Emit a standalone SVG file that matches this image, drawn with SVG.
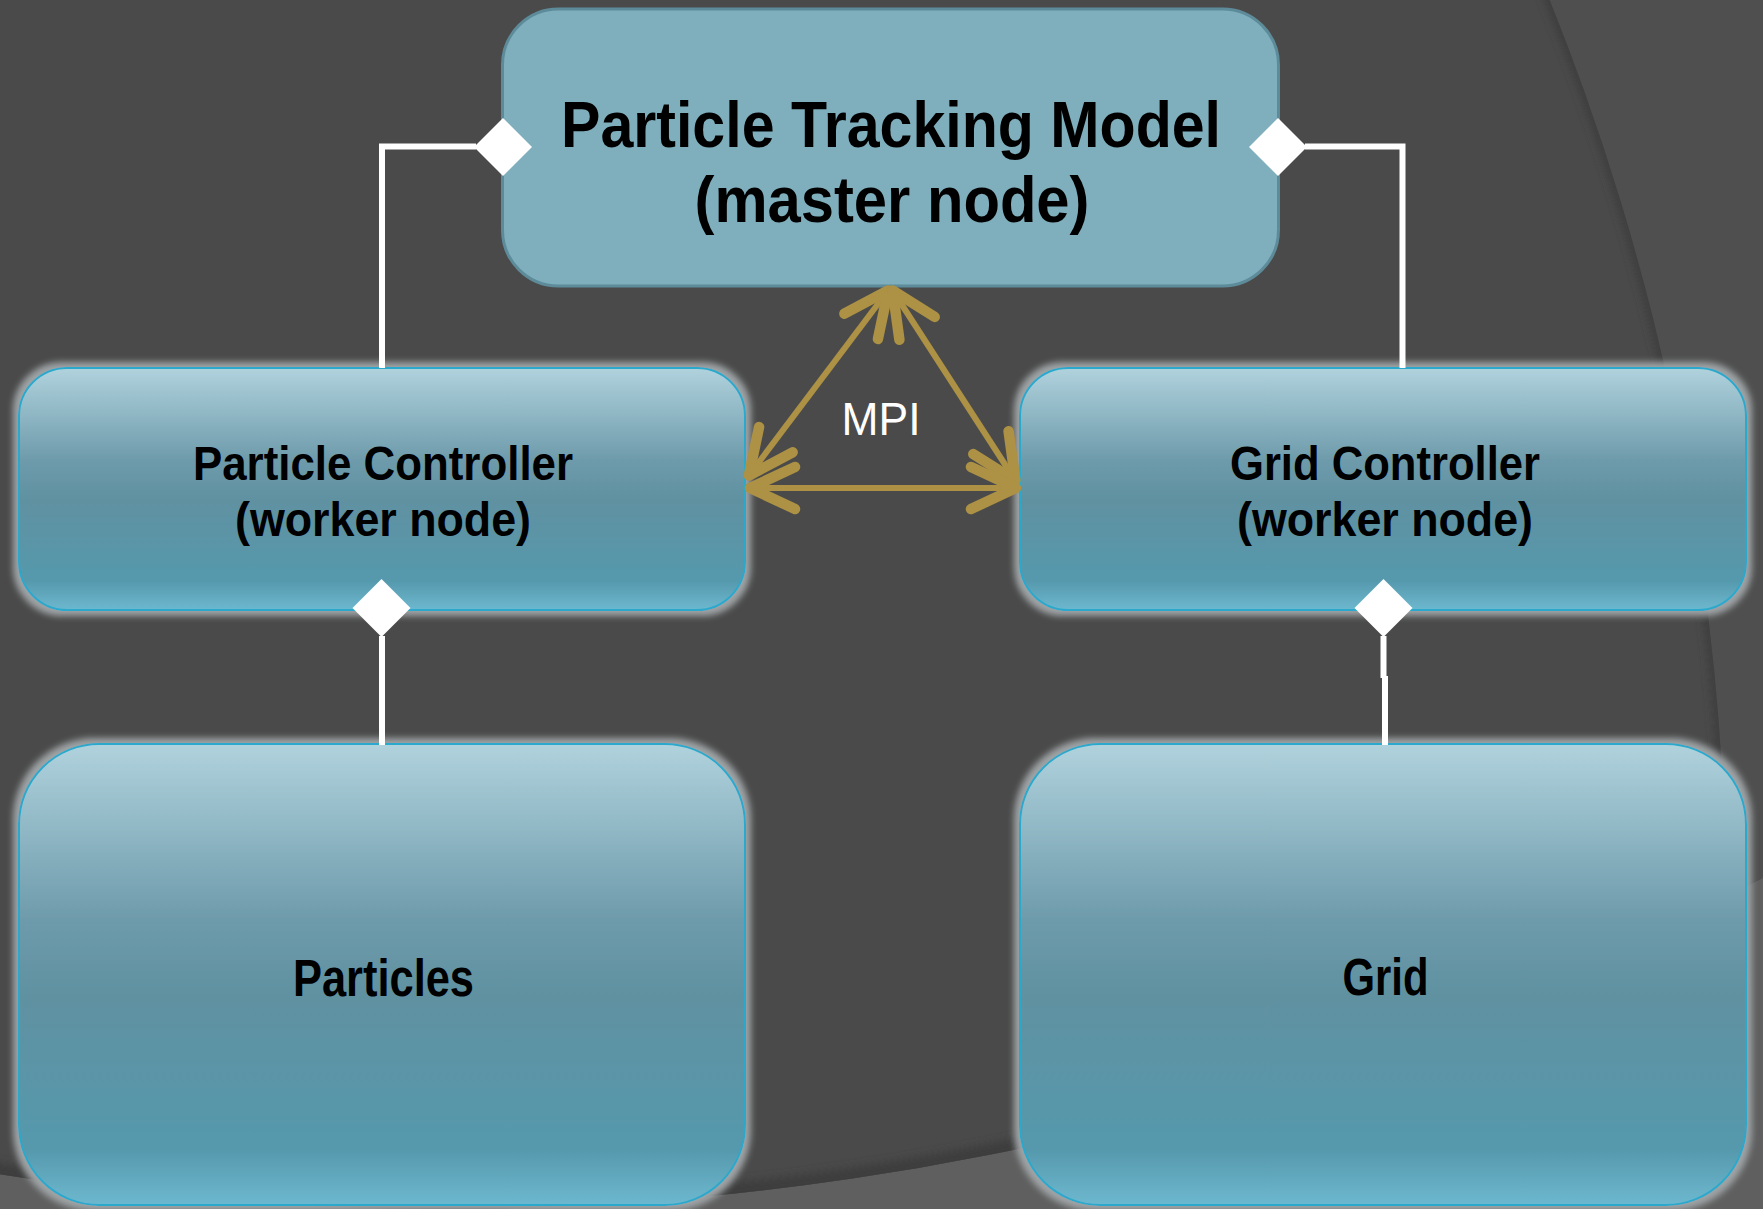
<svg xmlns="http://www.w3.org/2000/svg" xmlns:xlink="http://www.w3.org/1999/xlink" width="1763" height="1209" viewBox="0 0 1763 1209">
  <style>
    .lbl { font-family: "Liberation Sans", Arial, sans-serif; font-weight: bold; fill: #000; text-anchor: middle; }
    .box { fill: url(#boxGrad); stroke: #2aa9cc; stroke-width: 2; }
    .wire { fill: none; stroke: #ffffff; stroke-width: 6; stroke-linejoin: miter; }
    .mpi { fill: none; stroke: #ad9144; stroke-width: 6; }
    .mpiText { font-family: "Liberation Sans", Arial, sans-serif; fill: #ffffff; text-anchor: middle; }
  </style>
  <defs>
    <linearGradient id="boxGrad" x1="0" y1="0" x2="0" y2="1">
      <stop offset="0" stop-color="#b0d2dd"/>
      <stop offset="0.38" stop-color="#6e9bab"/>
      <stop offset="0.55" stop-color="#5f91a1"/>
      <stop offset="0.88" stop-color="#5699ad"/>
      <stop offset="1" stop-color="#6db8cf"/>
    </linearGradient>
    <filter id="glow" x="-10%" y="-15%" width="120%" height="130%">
      <feMorphology in="SourceAlpha" operator="dilate" radius="5" result="d"/>
      <feGaussianBlur in="d" stdDeviation="3" result="b"/>
      <feFlood flood-color="#9ea3a5"/>
      <feComposite in2="b" operator="in" result="g"/>
      <feMerge><feMergeNode in="g"/><feMergeNode in="SourceGraphic"/></feMerge>
    </filter>
    <filter id="soft" x="-5%" y="-5%" width="110%" height="110%">
      <feGaussianBlur stdDeviation="4"/>
    </filter>
    <clipPath id="clipB"><circle cx="440" cy="-1601" r="2810"/></clipPath>
    <clipPath id="clipA"><circle cx="-710" cy="910" r="2436"/></clipPath>
    <marker id="mpiHead" markerUnits="userSpaceOnUse" viewBox="-62 -36 72 72" markerWidth="72" markerHeight="72" refX="3" refY="0" orient="auto-start-reverse">
      <path d="M-45,-21 L0,0 L-45,21" fill="none" stroke="#ad9144" stroke-width="10.5" stroke-linecap="round" stroke-linejoin="round"/>
    </marker>
    <path id="dia" d="M0,-29 L29,0 L0,29 L-29,0 Z" fill="#ffffff"/>
  </defs>

  <!-- background -->
  <g id="background">
    <rect width="1763" height="1209" fill="#5f5f5f"/>
    <circle cx="440" cy="-1601" r="2810" fill="#4f4f4f"/>
    <g clip-path="url(#clipB)">
      <circle cx="-710" cy="910" r="2436" fill="#4a4a4a"/>
      <g clip-path="url(#clipA)">
        <circle cx="-710" cy="910" r="2436" fill="none" stroke="#3d3d3d" stroke-width="10" filter="url(#soft)"/>
        <circle cx="440" cy="-1601" r="2810" fill="none" stroke="#3c3c3c" stroke-width="22" filter="url(#soft)"/>
      </g>
    </g>
  </g>

  <!-- nodes -->
  <g id="node-master">
    <rect x="502.5" y="9" width="776" height="277" rx="56" ry="56" fill="#7fafbd" stroke="#5d8b9a" stroke-width="3"/>
    <text class="lbl" x="891" y="147" font-size="65" textLength="660" lengthAdjust="spacingAndGlyphs">Particle Tracking Model</text>
    <text class="lbl" x="892" y="222" font-size="65" textLength="395" lengthAdjust="spacingAndGlyphs">(master node)</text>
  </g>

  <g id="node-particle-controller">
    <rect class="box" x="19" y="368" width="726" height="242" rx="48" ry="48" filter="url(#glow)"/>
    <text class="lbl" x="383" y="480" font-size="49" textLength="380" lengthAdjust="spacingAndGlyphs">Particle Controller</text>
    <text class="lbl" x="383" y="536" font-size="49" textLength="296" lengthAdjust="spacingAndGlyphs">(worker node)</text>
  </g>

  <g id="node-grid-controller">
    <rect class="box" x="1020" y="368" width="726" height="242" rx="48" ry="48" filter="url(#glow)"/>
    <text class="lbl" x="1385" y="480" font-size="49" textLength="310" lengthAdjust="spacingAndGlyphs">Grid Controller</text>
    <text class="lbl" x="1385" y="536" font-size="49" textLength="296" lengthAdjust="spacingAndGlyphs">(worker node)</text>
  </g>

  <g id="node-particles">
    <rect class="box" x="19" y="744" width="726" height="461" rx="80" ry="80" filter="url(#glow)"/>
    <text class="lbl" x="383.5" y="996" font-size="51" textLength="181" lengthAdjust="spacingAndGlyphs">Particles</text>
  </g>

  <g id="node-grid">
    <rect class="box" x="1020" y="744" width="726" height="461" rx="80" ry="80" filter="url(#glow)"/>
    <text class="lbl" x="1385.5" y="995" font-size="51" textLength="86" lengthAdjust="spacingAndGlyphs">Grid</text>
  </g>

  <!-- connectors -->
  <g id="connectors">
    <polyline class="wire" points="476,146.5 382,146.5 382,368"/>
    <polyline class="wire" points="1305,146.5 1402.5,146.5 1402.5,368"/>
    <line class="wire" x1="382" y1="636" x2="382" y2="745"/>
    <line class="wire" x1="1383.5" y1="636" x2="1383.5" y2="678"/>
    <line class="wire" x1="1385" y1="676" x2="1385" y2="745"/>
    <use xlink:href="#dia" x="503" y="147"/>
    <use xlink:href="#dia" x="1278" y="147"/>
    <use xlink:href="#dia" x="381.5" y="608"/>
    <use xlink:href="#dia" x="1383.5" y="608"/>

    <line class="mpi" x1="890" y1="288" x2="747" y2="478" marker-start="url(#mpiHead)" marker-end="url(#mpiHead)"/>
    <line class="mpi" x1="891" y1="288" x2="1017" y2="483" marker-start="url(#mpiHead)" marker-end="url(#mpiHead)"/>
    <line class="mpi" x1="747" y1="488" x2="1019" y2="488" marker-start="url(#mpiHead)" marker-end="url(#mpiHead)"/>
    <text class="mpiText" x="881" y="435" font-size="46" textLength="79" lengthAdjust="spacingAndGlyphs">MPI</text>
  </g>
</svg>
